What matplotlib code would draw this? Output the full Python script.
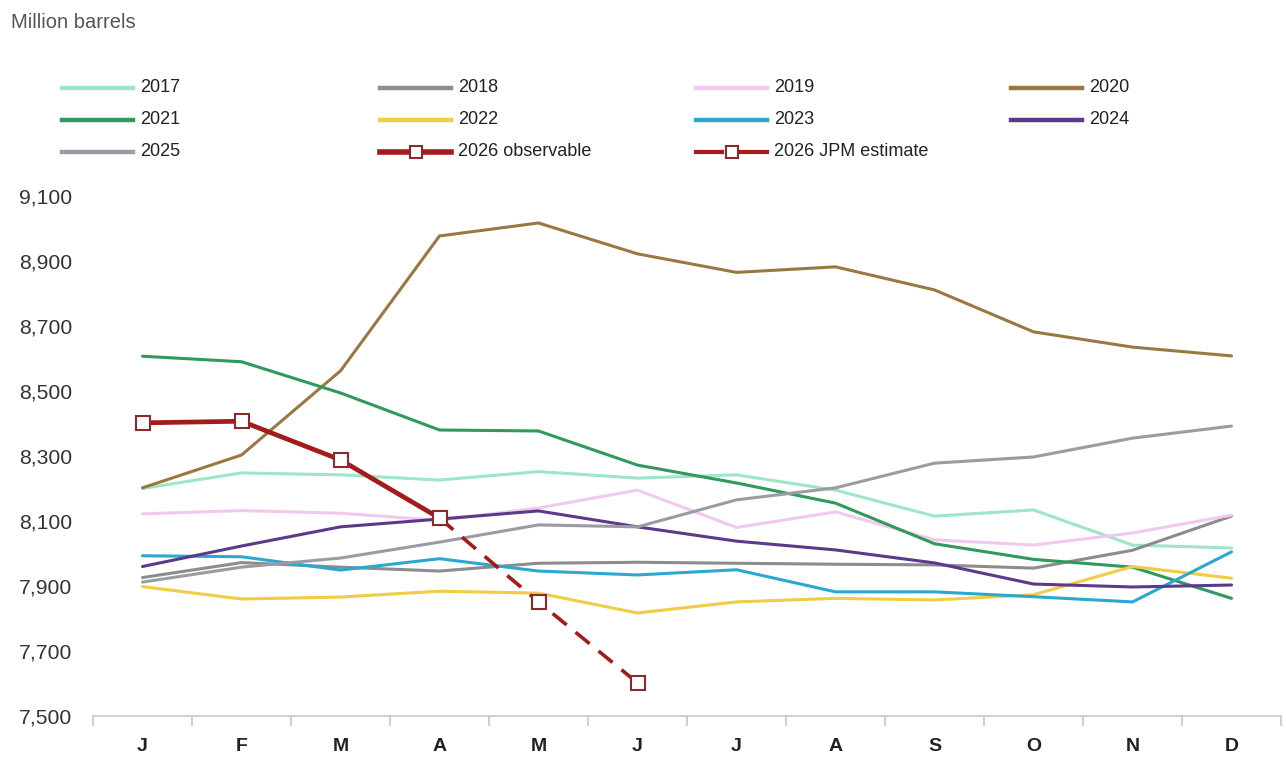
import matplotlib.pyplot as plt
from matplotlib.lines import Line2D
import numpy as np

plt.rcParams['font.family'] = ['Liberation Sans', 'DejaVu Sans']

months = ["J", "F", "M", "A", "M", "J", "J", "A", "S", "O", "N", "D"]

# Million barrels
y2017 = [8200, 8248, 8242, 8226, 8252, 8232, 8242, 8195, 8115, 8134, 8026, 8017]
y2018 = [7926, 7972, 7958, 7946, 7970, 7973, 7970, 7967, 7965, 7955, 8010, 8115]
y2019 = [8122, 8132, 8124, 8102, 8140, 8195, 8080, 8128, 8042, 8026, 8063, 8118]
y2020 = [8202, 8303, 8562, 8977, 9017, 8922, 8865, 8882, 8811, 8682, 8635, 8608]
y2021 = [8607, 8590, 8494, 8380, 8377, 8272, 8217, 8155, 8030, 7982, 7958, 7862]
y2022 = [7898, 7860, 7866, 7884, 7878, 7817, 7851, 7862, 7857, 7873, 7960, 7924]
y2023 = [7993, 7990, 7949, 7984, 7946, 7934, 7950, 7882, 7882, 7867, 7851, 8005]
y2024 = [7960, 8023, 8082, 8106, 8131, 8082, 8038, 8011, 7971, 7906, 7897, 7903]
y2025 = [7912, 7958, 7986, 8035, 8088, 8082, 8165, 8202, 8278, 8297, 8355, 8392]
y2026_obs = [8402, 8407, 8288, 8109]
y2026_est = [8109, 7851, 7602]

series = [
    ("2017", y2017, "#9fe6c8"),
    ("2018", y2018, "#8c8c8c"),
    ("2019", y2019, "#f3c8ee"),
    ("2020", y2020, "#9a7843"),
    ("2021", y2021, "#2f9a5c"),
    ("2022", y2022, "#f0cd45"),
    ("2023", y2023, "#2aa8cf"),
    ("2024", y2024, "#5a3a8a"),
    ("2025", y2025, "#9b9ba3"),
]
red = "#a31b1b"
mred = "#8a2a2a"

W, H = 1286, 758
fig = plt.figure(figsize=(W / 100, H / 100), dpi=100)
ax = fig.add_axes([93 / W, 1 - 716 / H, (1281 - 93) / W, 520 / H])

x = np.arange(len(months))
for name, vals, col in series:
    ax.plot(x, vals, color=col, lw=2.2, solid_capstyle="round")

ax.plot(x[3:6], y2026_est, color=red, lw=2.6, ls=(0, (5, 3.2)), zorder=5)
ax.plot(x[:4], y2026_obs, color=red, lw=3.4, zorder=6)
ax.plot(x[3:6], y2026_est, ls="none", marker="s", ms=10, mfc="white",
        mec=mred, mew=1.5, zorder=7)
ax.plot(x[:4], y2026_obs, ls="none", marker="s", ms=10, mfc="white",
        mec=mred, mew=1.5, zorder=7)

# legend drawn by hand, 4 columns x 3 rows
col_x = [62, 380, 696, 1011]
row_y = [88, 120, 152]


def fx(px):
    return px / W


def fy(py):
    return 1 - py / H


entries = [(name, col) for name, _, col in series] + [("2026 observable", "obs"),
                                                      ("2026 JPM estimate", "est")]
for i, (label, col) in enumerate(entries):
    r, c = divmod(i, 4)
    x0, x1, yy = col_x[c], col_x[c] + 71, row_y[r]
    if col == "obs":
        fig.add_artist(Line2D([fx(x0), fx(x1)], [fy(yy)] * 2, color=red, lw=4))
    elif col == "est":
        fig.add_artist(Line2D([fx(x0), fx(x0 + 26)], [fy(yy)] * 2, color=red, lw=3))
        fig.add_artist(Line2D([fx(x1 - 26), fx(x1)], [fy(yy)] * 2, color=red, lw=3))
    else:
        fig.add_artist(Line2D([fx(x0), fx(x1)], [fy(yy)] * 2, color=col, lw=3.2))
    if col in ("obs", "est"):
        fig.add_artist(Line2D([fx((x0 + x1) / 2)], [fy(yy)], ls="none", marker="s",
                              ms=9, mfc="white", mec=mred, mew=1.5))
    fig.text(fx(x1 + 7), fy(yy), label, fontsize=13, color="#222222",
             va="center", ha="left")

fig.text(fx(11), fy(22), "Million barrels", fontsize=14.5, color="#555555",
         va="center", ha="left")

ax.set_xlim(-0.5, 11.5)
ax.set_ylim(7500, 9100)
ax.set_yticks(np.arange(7500, 9101, 200))
ax.set_yticklabels([f"{v:,}" for v in range(7500, 9101, 200)])
ax.set_xticks(x)
ax.set_xticklabels(months)
ax.set_xticks(np.arange(-0.5, 12, 1), minor=True)

for s in ["top", "right", "left"]:
    ax.spines[s].set_visible(False)
ax.spines["bottom"].set_color("#c8c8c8")
ax.spines["bottom"].set_linewidth(1.2)
ax.tick_params(axis="x", which="major", length=0, pad=16, labelsize=14,
               labelcolor="#222222")
ax.tick_params(axis="x", which="minor", length=7, color="#c8c8c8", width=1.2)
ax.tick_params(axis="y", length=0, pad=15, labelsize=15.2, labelcolor="#333333")
for lab in ax.get_xticklabels():
    lab.set_fontweight("bold")

fig.savefig("out.png", dpi=100, facecolor="white")
